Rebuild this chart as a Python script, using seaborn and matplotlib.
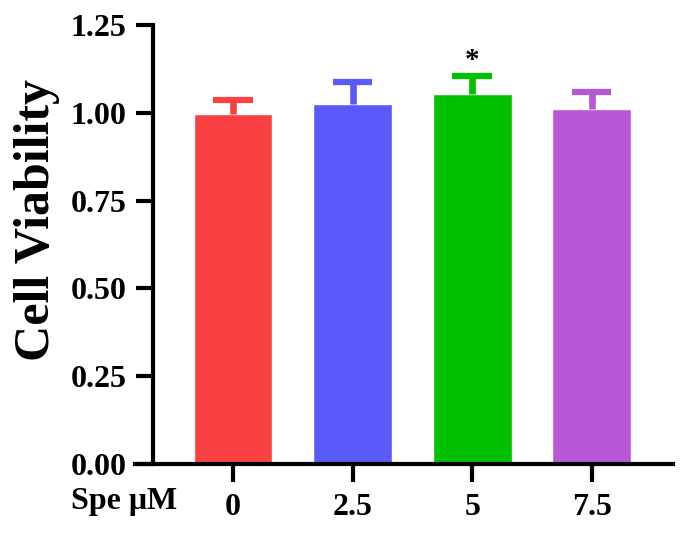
import numpy as np
import pandas as pd
import matplotlib
matplotlib.use("Agg")
import matplotlib.pyplot as plt
import seaborn as sns

# Cell viability at each spermidine dose (mean + SD, upper bar only)
doses = ["0", "2.5", "5", "7.5"]
viability = [0.997, 1.026, 1.054, 1.010]
sd = [0.040, 0.061, 0.050, 0.049]
colors = ["#FA4141", "#5A5AFA", "#00C000", "#B857D8"]
star_labels = ["", "", "*", ""]
yticks = [0.00, 0.25, 0.50, 0.75, 1.00, 1.25]

sns.set_style("ticks")
plt.rcParams["font.family"] = ["Liberation Serif", "DejaVu Serif"]
plt.rcParams["font.weight"] = "bold"
plt.rcParams["text.color"] = "black"
plt.rcParams["axes.edgecolor"] = "black"
plt.rcParams["xtick.color"] = "black"
plt.rcParams["ytick.color"] = "black"

df = pd.DataFrame({"dose": doses, "viability": viability})

fig = plt.figure(figsize=(6.85, 5.38), dpi=100)
ax = fig.add_axes([135 / 685, 1 - 464 / 538, (673 - 135) / 685, (464 - 25) / 538])

sns.barplot(data=df, x="dose", y="viability", hue="dose", palette=colors,
            order=doses, width=0.66, errorbar=None, legend=False, ax=ax,
            saturation=1)

# upper-only error bars in bar colour (stem + cap)
xs = np.arange(len(doses))
cap_half = 0.165
for i in range(len(doses)):
    top = viability[i] + sd[i]
    ax.vlines(xs[i], viability[i], top, colors=colors[i], linewidth=4.8, zorder=1)
    ax.hlines(top, xs[i] - cap_half, xs[i] + cap_half, colors=colors[i],
              linewidth=4.5, zorder=1)
    if star_labels[i]:
        ax.text(xs[i], top + 0.006, star_labels[i], ha="center", va="bottom",
                fontsize=21, fontweight="bold")

ax.set_xlim(-0.82, 3.68)
ax.set_ylim(0, 1.25)
ax.set_yticks(yticks)
ax.set_yticklabels([f"{v:.2f}" for v in yticks])

sns.despine(ax=ax)
ax.spines["left"].set_position(("data", -0.67))
ax.spines["left"].set_linewidth(3)
ax.spines["bottom"].set_linewidth(3)
ax.tick_params(axis="y", length=12, width=3, pad=7, labelsize=23)
ax.tick_params(axis="x", length=13, width=3, pad=8, labelsize=23)
for lab in ax.get_xticklabels() + ax.get_yticklabels():
    lab.set_fontweight("bold")

ax.set_xlabel("")
ax.set_ylabel("")
fig.text(37 / 685, 1 - 220 / 538, "Cell Viability", rotation=90,
         ha="center", va="center", fontsize=36, fontweight="bold")
fig.text(124 / 685, 1 - 502 / 538, "Spe μM", ha="center", va="center",
         fontsize=23, fontweight="bold")

fig.savefig("out.png", dpi=100)
